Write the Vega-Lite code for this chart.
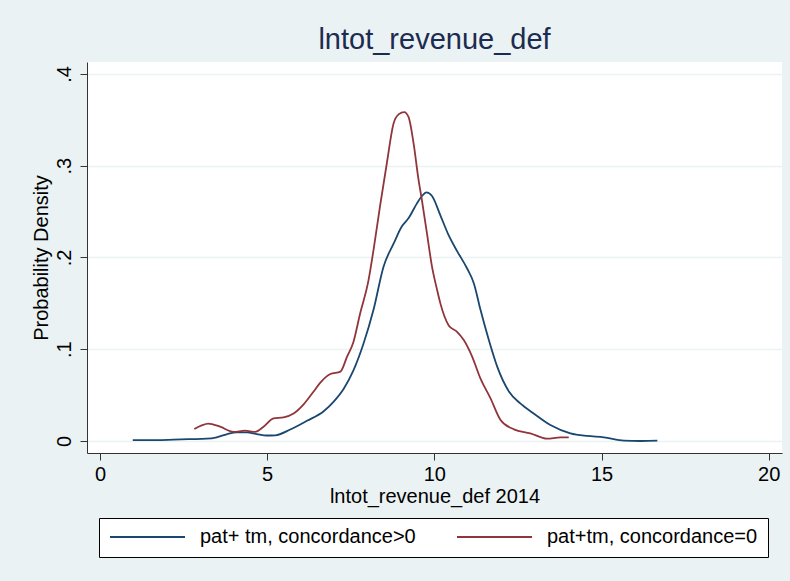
{
  "$schema": "https://vega.github.io/schema/vega-lite/v6.json",
  "width": 695,
  "height": 391,
  "autosize": {"type": "none"},
  "padding": {"left": 87, "top": 62, "right": 8, "bottom": 128},
  "background": "#eaf2f3",
  "config": {
    "font": "Liberation Sans",
    "view": {"fill": "white", "stroke": null}
  },
  "title": {
    "text": "lntot_revenue_def",
    "fontSize": 29,
    "fontWeight": "normal",
    "color": "#1c2b50",
    "anchor": "middle",
    "frame": "group",
    "baseline": "alphabetic",
    "offset": -16
  },
  "data": {
    "values": [
      {"group": "pat+ tm, concordance>0", "x": 0.98, "y": 0.001},
      {"group": "pat+ tm, concordance>0", "x": 1.7, "y": 0.001},
      {"group": "pat+ tm, concordance>0", "x": 2.2, "y": 0.0015},
      {"group": "pat+ tm, concordance>0", "x": 2.69, "y": 0.002},
      {"group": "pat+ tm, concordance>0", "x": 3.19, "y": 0.0025},
      {"group": "pat+ tm, concordance>0", "x": 3.49, "y": 0.004},
      {"group": "pat+ tm, concordance>0", "x": 3.79, "y": 0.0073},
      {"group": "pat+ tm, concordance>0", "x": 4.09, "y": 0.0095},
      {"group": "pat+ tm, concordance>0", "x": 4.39, "y": 0.0093},
      {"group": "pat+ tm, concordance>0", "x": 4.69, "y": 0.0075},
      {"group": "pat+ tm, concordance>0", "x": 4.99, "y": 0.006},
      {"group": "pat+ tm, concordance>0", "x": 5.24, "y": 0.0062},
      {"group": "pat+ tm, concordance>0", "x": 5.69, "y": 0.0125},
      {"group": "pat+ tm, concordance>0", "x": 6.19, "y": 0.022},
      {"group": "pat+ tm, concordance>0", "x": 6.69, "y": 0.0325},
      {"group": "pat+ tm, concordance>0", "x": 6.99, "y": 0.043},
      {"group": "pat+ tm, concordance>0", "x": 7.29, "y": 0.057},
      {"group": "pat+ tm, concordance>0", "x": 7.58, "y": 0.077},
      {"group": "pat+ tm, concordance>0", "x": 7.88, "y": 0.106},
      {"group": "pat+ tm, concordance>0", "x": 8.18, "y": 0.143},
      {"group": "pat+ tm, concordance>0", "x": 8.48, "y": 0.19},
      {"group": "pat+ tm, concordance>0", "x": 8.78, "y": 0.215},
      {"group": "pat+ tm, concordance>0", "x": 9.03, "y": 0.234},
      {"group": "pat+ tm, concordance>0", "x": 9.23, "y": 0.243},
      {"group": "pat+ tm, concordance>0", "x": 9.48, "y": 0.259},
      {"group": "pat+ tm, concordance>0", "x": 9.63, "y": 0.267},
      {"group": "pat+ tm, concordance>0", "x": 9.76, "y": 0.271},
      {"group": "pat+ tm, concordance>0", "x": 9.93, "y": 0.267},
      {"group": "pat+ tm, concordance>0", "x": 10.18, "y": 0.246},
      {"group": "pat+ tm, concordance>0", "x": 10.43, "y": 0.224},
      {"group": "pat+ tm, concordance>0", "x": 10.68, "y": 0.207},
      {"group": "pat+ tm, concordance>0", "x": 10.98, "y": 0.188},
      {"group": "pat+ tm, concordance>0", "x": 11.18, "y": 0.172},
      {"group": "pat+ tm, concordance>0", "x": 11.38, "y": 0.143},
      {"group": "pat+ tm, concordance>0", "x": 11.63, "y": 0.11},
      {"group": "pat+ tm, concordance>0", "x": 11.88, "y": 0.081},
      {"group": "pat+ tm, concordance>0", "x": 12.23, "y": 0.054},
      {"group": "pat+ tm, concordance>0", "x": 12.57, "y": 0.041},
      {"group": "pat+ tm, concordance>0", "x": 12.97, "y": 0.03},
      {"group": "pat+ tm, concordance>0", "x": 13.47, "y": 0.0174},
      {"group": "pat+ tm, concordance>0", "x": 14.07, "y": 0.0084},
      {"group": "pat+ tm, concordance>0", "x": 14.57, "y": 0.0055},
      {"group": "pat+ tm, concordance>0", "x": 15.07, "y": 0.004},
      {"group": "pat+ tm, concordance>0", "x": 15.67, "y": 0.0005},
      {"group": "pat+ tm, concordance>0", "x": 16.17, "y": 0.0},
      {"group": "pat+ tm, concordance>0", "x": 16.67, "y": 0.0003},
      {"group": "pat+tm, concordance=0", "x": 2.82, "y": 0.013},
      {"group": "pat+tm, concordance=0", "x": 3.04, "y": 0.017},
      {"group": "pat+tm, concordance=0", "x": 3.24, "y": 0.019},
      {"group": "pat+tm, concordance=0", "x": 3.59, "y": 0.0156},
      {"group": "pat+tm, concordance=0", "x": 3.99, "y": 0.01},
      {"group": "pat+tm, concordance=0", "x": 4.34, "y": 0.0112},
      {"group": "pat+tm, concordance=0", "x": 4.64, "y": 0.01},
      {"group": "pat+tm, concordance=0", "x": 4.89, "y": 0.0156},
      {"group": "pat+tm, concordance=0", "x": 5.19, "y": 0.0247},
      {"group": "pat+tm, concordance=0", "x": 5.49, "y": 0.0258},
      {"group": "pat+tm, concordance=0", "x": 5.79, "y": 0.03},
      {"group": "pat+tm, concordance=0", "x": 6.09, "y": 0.04},
      {"group": "pat+tm, concordance=0", "x": 6.39, "y": 0.054},
      {"group": "pat+tm, concordance=0", "x": 6.59, "y": 0.0636},
      {"group": "pat+tm, concordance=0", "x": 6.89, "y": 0.073},
      {"group": "pat+tm, concordance=0", "x": 7.19, "y": 0.0756},
      {"group": "pat+tm, concordance=0", "x": 7.39, "y": 0.092},
      {"group": "pat+tm, concordance=0", "x": 7.58, "y": 0.108},
      {"group": "pat+tm, concordance=0", "x": 7.78, "y": 0.139},
      {"group": "pat+tm, concordance=0", "x": 8.03, "y": 0.175},
      {"group": "pat+tm, concordance=0", "x": 8.18, "y": 0.208},
      {"group": "pat+tm, concordance=0", "x": 8.38, "y": 0.257},
      {"group": "pat+tm, concordance=0", "x": 8.58, "y": 0.303},
      {"group": "pat+tm, concordance=0", "x": 8.78, "y": 0.346},
      {"group": "pat+tm, concordance=0", "x": 8.93, "y": 0.356},
      {"group": "pat+tm, concordance=0", "x": 9.1, "y": 0.3585},
      {"group": "pat+tm, concordance=0", "x": 9.23, "y": 0.353},
      {"group": "pat+tm, concordance=0", "x": 9.38, "y": 0.324},
      {"group": "pat+tm, concordance=0", "x": 9.53, "y": 0.284},
      {"group": "pat+tm, concordance=0", "x": 9.63, "y": 0.262},
      {"group": "pat+tm, concordance=0", "x": 9.78, "y": 0.226},
      {"group": "pat+tm, concordance=0", "x": 9.93, "y": 0.19},
      {"group": "pat+tm, concordance=0", "x": 10.08, "y": 0.165},
      {"group": "pat+tm, concordance=0", "x": 10.18, "y": 0.15},
      {"group": "pat+tm, concordance=0", "x": 10.43, "y": 0.126},
      {"group": "pat+tm, concordance=0", "x": 10.68, "y": 0.119},
      {"group": "pat+tm, concordance=0", "x": 10.88, "y": 0.11},
      {"group": "pat+tm, concordance=0", "x": 11.13, "y": 0.092},
      {"group": "pat+tm, concordance=0", "x": 11.38, "y": 0.068},
      {"group": "pat+tm, concordance=0", "x": 11.68, "y": 0.0465},
      {"group": "pat+tm, concordance=0", "x": 11.98, "y": 0.023},
      {"group": "pat+tm, concordance=0", "x": 12.38, "y": 0.0127},
      {"group": "pat+tm, concordance=0", "x": 12.87, "y": 0.0084},
      {"group": "pat+tm, concordance=0", "x": 13.37, "y": 0.0025},
      {"group": "pat+tm, concordance=0", "x": 13.77, "y": 0.004},
      {"group": "pat+tm, concordance=0", "x": 14.02, "y": 0.004}
    ]
  },
  "mark": {"type": "line", "strokeWidth": 1.8, "interpolate": "monotone"},
  "encoding": {
    "x": {
      "field": "x",
      "type": "quantitative",
      "scale": {"domain": [-0.389, 20.398], "nice": false, "zero": false},
      "axis": {
        "values": [0, 5, 10, 15, 20],
        "title": "lntot_revenue_def 2014",
        "grid": false,
        "domainColor": "#333333",
        "tickColor": "#333333",
        "tickSize": 7,
        "labelFontSize": 20,
        "labelColor": "black",
        "labelPadding": 4,
        "labelFlush": false,
        "titleFontSize": 20,
        "titleFontWeight": "normal",
        "titleColor": "black",
        "titlePadding": 2
      }
    },
    "y": {
      "field": "y",
      "type": "quantitative",
      "scale": {"domain": [-0.01308, 0.41308], "nice": false, "zero": false},
      "axis": {
        "values": [0, 0.1, 0.2, 0.3, 0.4],
        "labelExpr": "datum.value === 0 ? '0' : '.' + round(datum.value * 10)",
        "title": "Probability Density",
        "grid": true,
        "gridColor": "#eaf2f3",
        "gridWidth": 1.5,
        "domainColor": "#333333",
        "tickColor": "#333333",
        "tickSize": 7,
        "labelFontSize": 20,
        "labelColor": "black",
        "labelAngle": -90,
        "labelAlign": "center",
        "labelBaseline": "alphabetic",
        "labelPadding": 10,
        "labelFlush": false,
        "titleFontSize": 20,
        "titleFontWeight": "normal",
        "titleColor": "black",
        "titlePadding": 3
      }
    },
    "color": {
      "field": "group",
      "type": "nominal",
      "scale": {
        "domain": ["pat+ tm, concordance>0", "pat+tm, concordance=0"],
        "range": ["#1a476f", "#90353b"]
      },
      "legend": {
        "orient": "none",
        "legendX": 12,
        "legendY": 456,
        "direction": "horizontal",
        "columns": 2,
        "gridAlign": "all",
        "title": null,
        "labelFontSize": 20,
        "labelColor": "black",
        "labelLimit": 0,
        "symbolType": "stroke",
        "symbolSize": 5625,
        "symbolStrokeWidth": 1.8,
        "labelOffset": 14,
        "columnPadding": 40,
        "padding": 10,
        "strokeColor": "black",
        "fillColor": "white",
        "clipHeight": 18
      }
    }
  }
}
